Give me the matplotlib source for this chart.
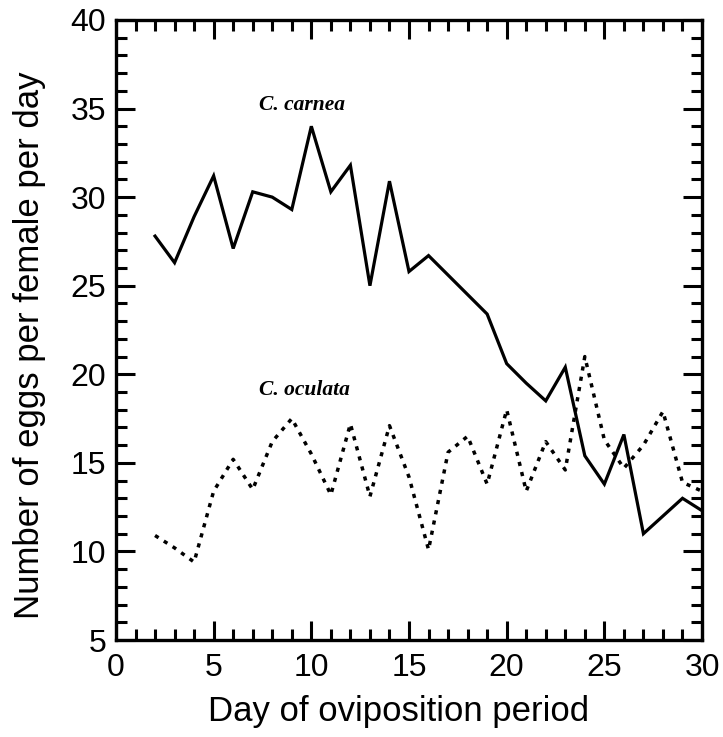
import matplotlib
matplotlib.use("Agg")
import matplotlib.pyplot as plt
from matplotlib.ticker import MultipleLocator

# Day of oviposition period
days = list(range(2, 31))

# Eggs per female per day
carnea = [27.8, 26.3, 28.9, 31.2, 27.1, 30.3, 30.0, 29.3, 34.0, 30.3,
          31.8, 25.0, 30.9, 25.8, 26.7, 25.6, 24.5, 23.4, 20.6, 19.5,
          18.5, 20.4, 15.4, 13.8, 16.6, 11.0, 12.0, 13.0, 12.3]
oculata = [10.9, 10.2, 9.4, 13.4, 15.2, 13.5, 16.2, 17.5, 15.5, 13.2,
           17.2, 13.1, 17.1, 14.2, 10.1, 15.6, 16.5, 13.8, 18.0, 13.4,
           16.2, 14.6, 21.0, 16.3, 14.7, 16.0, 17.9, 13.9, 13.4]

plt.rcParams['font.family'] = ['Liberation Sans', 'DejaVu Sans']

fig = plt.figure(figsize=(7.23, 7.37), dpi=100)
ax = fig.add_axes([0.1604, 0.1316, 0.8106, 0.8413])

ax.plot(days, carnea, color='black', lw=2.3, solid_joinstyle='miter')
ax.plot(days, oculata, color='black', lw=2.5, linestyle=(0, (1.2, 1.8)))

ax.text(9.5, 35.2, 'C. carnea', family='Liberation Serif', style='italic',
        weight='bold', fontsize=15.5, ha='center', va='center')
ax.text(9.65, 19.1, 'C. oculata', family='Liberation Serif', style='italic',
        weight='bold', fontsize=15.5, ha='center', va='center')

ax.set_xlim(0, 30)
ax.set_ylim(5, 40)
ax.xaxis.set_major_locator(MultipleLocator(5))
ax.xaxis.set_minor_locator(MultipleLocator(1))
ax.yaxis.set_major_locator(MultipleLocator(5))
ax.yaxis.set_minor_locator(MultipleLocator(1))

ax.tick_params(which='both', direction='in', top=True, right=True, width=2.2)
ax.tick_params(which='major', length=14, labelsize=23)
ax.tick_params(which='minor', length=8)
ax.tick_params(axis='x', which='major', pad=9)
ax.tick_params(axis='y', which='major', pad=7)
for s in ax.spines.values():
    s.set_linewidth(2.4)

ax.set_xlabel('Day of oviposition period', fontsize=25, labelpad=9, x=0.482)
ax.set_ylabel('Number of eggs per female per day', fontsize=25,
              labelpad=18, y=0.476)

fig.savefig('out.png', dpi=100)
